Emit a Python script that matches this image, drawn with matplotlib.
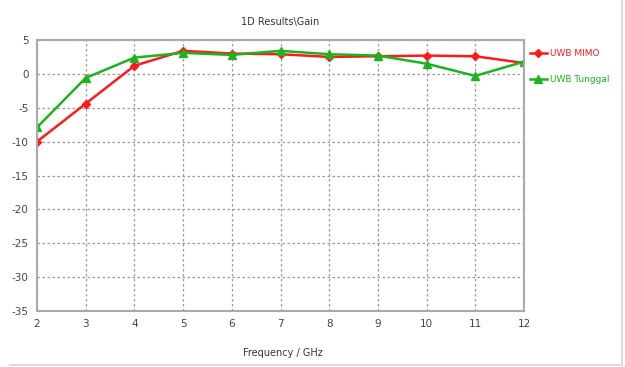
import matplotlib
matplotlib.use('Agg')
import matplotlib.pyplot as plt

plt.rcParams['font.family'] = ['Liberation Sans Narrow', 'DejaVu Sans']
plt.rcParams['axes.unicode_minus'] = False

freq = [2, 3, 4, 5, 6, 7, 8, 9, 10, 11, 12]
gain_mimo = [-10.0, -4.4, 1.2, 3.4, 3.0, 2.9, 2.5, 2.6, 2.7, 2.6, 1.6]
gain_tunggal = [-7.9, -0.6, 2.4, 3.1, 2.8, 3.4, 2.9, 2.7, 1.5, -0.3, 1.8]

fig = plt.figure(figsize=(6.25, 3.67), dpi=100)
ax = fig.add_axes([37/625, 1-311/367, (524-37)/625, (311-40)/367])

ax.plot(freq, gain_mimo, color='#ff1a1a', lw=1.8, marker='D', ms=4.5, label='UWB MIMO')
ax.plot(freq, gain_tunggal, color='#1db31d', lw=1.8, marker='^', ms=5.5, label='UWB Tunggal')

ax.set_xlim(2, 12)
ax.set_ylim(-35, 5)
ax.set_xticks(range(2, 13))
ax.set_yticks(range(-35, 6, 5))
ax.grid(True, color='#999999', ls=(0, (2, 2)), lw=0.9)
for s in ax.spines.values():
    s.set_color('#aaaaaa')
    s.set_linewidth(1.5)
ax.tick_params(length=0, labelsize=7.5, colors='#444444', pad=6)

fig.text(280/625, 1-22/367, '1D Results\\Gain', ha='center', va='center', fontsize=7, color='#333333')
fig.text(283/625, 1-353/367, 'Frequency / GHz', ha='center', va='center', fontsize=7, color='#333333')

leg = ax.legend(loc='upper left', bbox_to_anchor=(1.0, 0.99), frameon=False, fontsize=6.5,
                handlelength=1.8, handletextpad=0.4, labelspacing=1.9, borderaxespad=0.3)
for t, c in zip(leg.get_texts(), ['#ff1a1a', '#1db31d']):
    t.set_color(c)

# faint frame at right and bottom edges
fig.add_artist(plt.Line2D([622/625, 622/625], [1/367, 1], color='#dddddd', lw=1.5))
fig.add_artist(plt.Line2D([10/625, 622/625], [2/367, 2/367], color='#dddddd', lw=1.5))

fig.savefig('out.png', dpi=100)
